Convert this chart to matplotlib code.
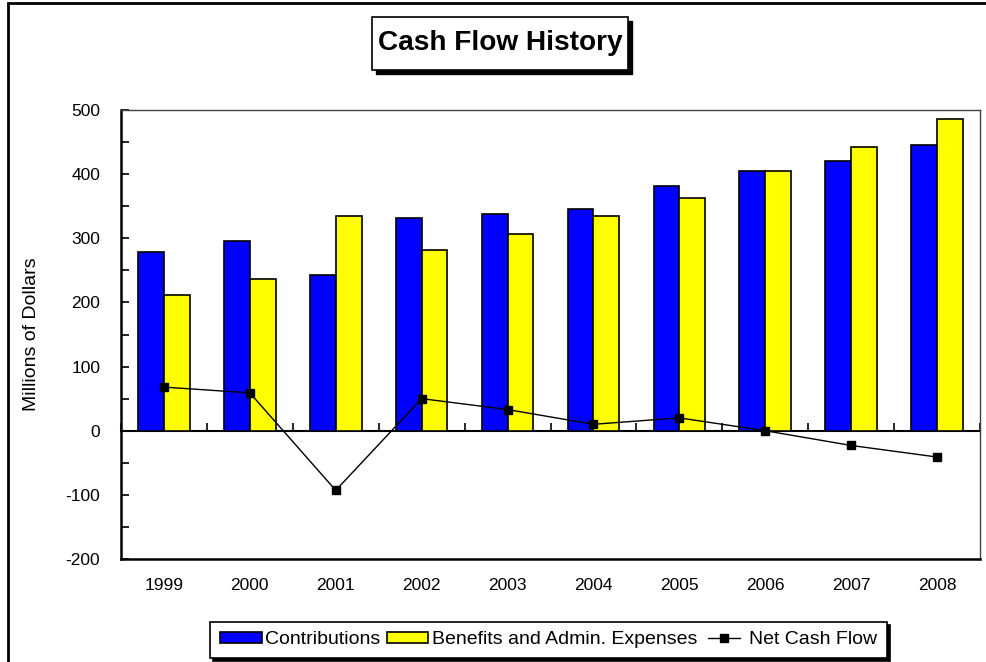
import matplotlib
matplotlib.use("Agg")
import matplotlib.pyplot as plt
from matplotlib.patches import Rectangle, Patch
from matplotlib.lines import Line2D
from matplotlib.legend_handler import HandlerLine2D
from matplotlib.ticker import MultipleLocator
import numpy as np

plt.rcParams['font.family'] = ['Liberation Sans', 'DejaVu Sans']
plt.rcParams['axes.unicode_minus'] = False

years = ['1999', '2000', '2001', '2002', '2003', '2004', '2005', '2006', '2007', '2008']
contributions = [279, 296, 242, 331, 338, 345, 382, 405, 420, 445]
benefits = [212, 237, 335, 281, 307, 335, 363, 405, 442, 486]
net_cash_flow = [68, 59, -93, 50, 33, 10, 20, 0, -23, -41]

W, H = 986, 662
def fx(x): return x / W
def fy(y): return 1 - y / H

fig = plt.figure(figsize=(W / 100, H / 100), dpi=100)
ax = fig.add_axes([fx(121), fy(559), (980 - 121) / W, (559 - 110) / H])

x = np.arange(len(years))
bw = 0.3
ax.bar(x - bw / 2, contributions, bw, color='#0000FF', edgecolor='black', linewidth=1.2, zorder=2)
ax.bar(x + bw / 2, benefits, bw, color='#FFFF00', edgecolor='black', linewidth=1.2, zorder=2)
ax.plot(x, net_cash_flow, color='black', linewidth=1, marker='s', markersize=6, zorder=4)

ax.set_xlim(-0.5, len(years) - 0.5)
ax.set_ylim(-200, 500)
ax.yaxis.set_major_locator(MultipleLocator(100))
ax.yaxis.set_minor_locator(MultipleLocator(50))
ax.tick_params(axis='y', which='both', direction='in', length=6, width=1.2, pad=15, labelsize=12.5)
ax.set_xticks(x)
ax.set_xticklabels(years)
ax.tick_params(axis='x', length=0, pad=14, labelsize=12.5)

for s in ['left', 'bottom']:
    ax.spines[s].set_linewidth(1.8)
    ax.spines[s].set_color('black')
for s in ['top', 'right']:
    ax.spines[s].set_linewidth(1.0)
    ax.spines[s].set_color('#404040')

# zero axis with inward category-boundary ticks
sec = ax.secondary_xaxis(0, transform=ax.transData)
sec.set_xticks(np.arange(len(years) + 1) - 0.5)
sec.set_xticklabels([])
sec.tick_params(direction='in', length=6, width=1.2)
sec.spines['bottom'].set_linewidth(1.5)

ax.set_ylabel('Millions of Dollars', fontsize=14)
ax.yaxis.set_label_coords((40 - 121) / (980 - 121), 0.5)

# title box with shadow
fig.patches.append(Rectangle((fx(376), fy(74)), 256 / W, 53 / H, transform=fig.transFigure,
                             facecolor='black', edgecolor='black', zorder=1))
fig.patches.append(Rectangle((fx(372), fy(70)), 256 / W, 53 / H, transform=fig.transFigure,
                             facecolor='white', edgecolor='black', linewidth=1.2, zorder=2))
fig.text(fx(500), fy(43), 'Cash Flow History', ha='center', va='center',
         fontsize=20.2, fontweight='bold', zorder=3)

# outer border
fig.patches.append(Rectangle((fx(8), fy(H + 10)), (W + 10) / W, (H + 7) / H, transform=fig.transFigure,
                             facecolor='none', edgecolor='black', linewidth=2, clip_on=False))


class ShortLine(HandlerLine2D):
    def get_xdata(self, legend, xdescent, ydescent, width, height, fontsize):
        pad = 0.25 * fontsize
        xdata = np.array([-xdescent + pad, -xdescent + width - pad])
        return xdata, np.array([-xdescent + 0.5 * width])


line_handle = Line2D([], [], color='black', linewidth=1, marker='s', markersize=6)
handles = [Patch(facecolor='#0000FF', edgecolor='black', linewidth=1.2),
           Patch(facecolor='#FFFF00', edgecolor='black', linewidth=1.2),
           line_handle]
labels = ['Contributions', 'Benefits and Admin. Expenses', 'Net Cash Flow']
leg = ax.legend(handles, labels, ncol=3, loc='center', bbox_to_anchor=(fx(548.5), fy(640)),
                bbox_transform=fig.transFigure, frameon=True, fancybox=False, edgecolor='black',
                framealpha=1, shadow={'color': 'black', 'alpha': 1}, handlelength=2.15,
                handleheight=0.5, handletextpad=0.2, columnspacing=0.3, borderpad=0.5,
                borderaxespad=0, fontsize=14, handler_map={line_handle: ShortLine()})
leg.get_frame().set_linewidth(1.2)

fig.savefig('out.png', dpi=100)
